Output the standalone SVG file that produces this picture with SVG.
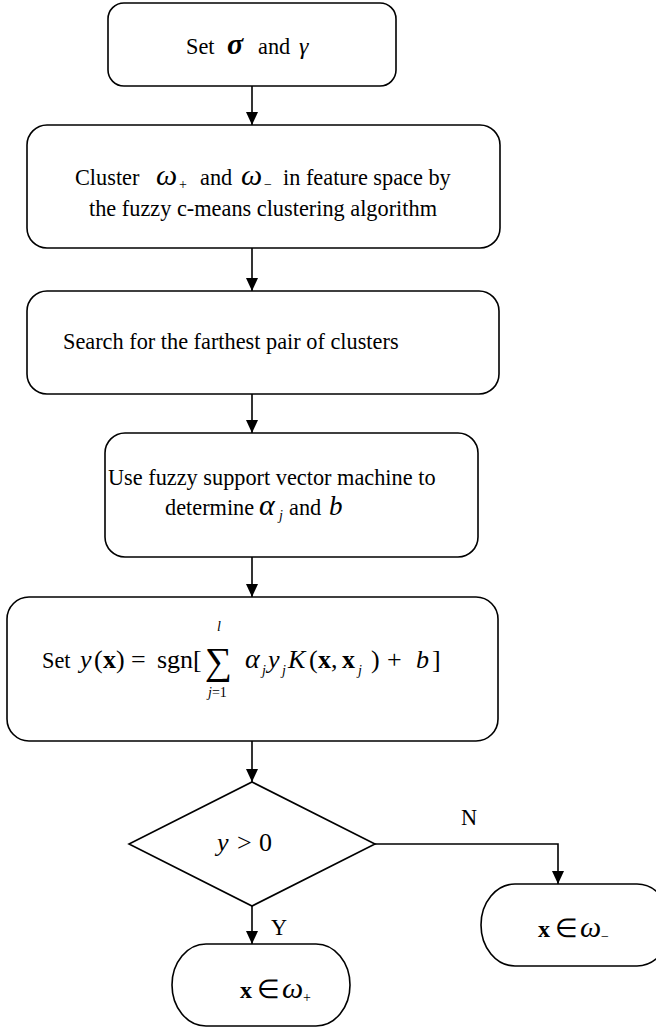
<svg xmlns="http://www.w3.org/2000/svg" width="656" height="1030" viewBox="0 0 656 1030">
  <style>
    .box { fill: #fff; stroke: #000; stroke-width: 1.6; }
    .wire { fill: none; stroke: #000; stroke-width: 1.6; }
    text { font-family: "Liberation Serif", "Times New Roman", serif; font-size: 22.3px; fill: #000; }
    .mi { font-style: italic; }
    .bf { font-weight: bold; }
    .big { font-size: 30px; font-style: italic; }
    .sub { font-size: 14px; }
  </style>
  <defs>
    <marker id="arrow" markerWidth="13" markerHeight="13" refX="13" refY="6.5" orient="auto" markerUnits="userSpaceOnUse">
      <path d="M0,0.5 L13,6.5 L0,12.5 Z" fill="#000"/>
    </marker>
  </defs>

  <rect width="656" height="1030" fill="#fff"/>

  <!-- connectors -->
  <g id="connectors">
    <line class="wire" x1="252" y1="86" x2="252" y2="125" marker-end="url(#arrow)"/>
    <line class="wire" x1="252" y1="248" x2="252" y2="291" marker-end="url(#arrow)"/>
    <line class="wire" x1="252" y1="394" x2="252" y2="433" marker-end="url(#arrow)"/>
    <line class="wire" x1="252" y1="557" x2="252" y2="597" marker-end="url(#arrow)"/>
    <line class="wire" x1="252" y1="741" x2="252" y2="782" marker-end="url(#arrow)"/>
    <polyline class="wire" points="375,844 558,844 558,884" marker-end="url(#arrow)"/>
    <line class="wire" x1="252" y1="906" x2="252" y2="944" marker-end="url(#arrow)"/>
    <text x="461" y="825">N</text>
    <text x="271" y="935">Y</text>
  </g>

  <!-- step 1 -->
  <g id="set-params">
    <rect class="box" x="108" y="3" width="288" height="83" rx="16"/>
    <text y="54"><tspan x="186">Set</tspan><tspan x="227" class="big" style="font-weight:bold">σ</tspan><tspan x="258">and</tspan><tspan x="299" class="mi" style="font-size:24px">γ</tspan></text>
  </g>

  <!-- step 2 -->
  <g id="cluster">
    <rect class="box" x="27" y="125" width="473" height="123" rx="20"/>
    <text y="185"><tspan x="75">Cluster</tspan><tspan x="156" class="big">ω</tspan><tspan x="179" y="189" class="sub">+</tspan><tspan x="200" y="185">and</tspan><tspan x="241" class="big">ω</tspan><tspan x="264" y="189" class="sub">−</tspan><tspan x="283" y="185">in feature space by</tspan></text>
    <text x="263" y="216" text-anchor="middle">the fuzzy c-means clustering algorithm</text>
  </g>

  <!-- step 3 -->
  <g id="search">
    <rect class="box" x="27" y="291" width="472" height="103" rx="20"/>
    <text x="63" y="349">Search for the farthest pair of clusters</text>
  </g>

  <!-- step 4 -->
  <g id="fsvm">
    <rect class="box" x="105" y="433" width="373" height="124" rx="20"/>
    <text x="108" y="485">Use fuzzy support vector machine to</text>
    <text y="515"><tspan x="165">determine</tspan><tspan x="259" class="big">α</tspan><tspan x="279" y="520" class="sub mi">j</tspan><tspan x="289" y="515">and</tspan><tspan x="329" class="mi" style="font-size:27px">b</tspan></text>
  </g>

  <!-- step 5 -->
  <g id="decision-fn">
    <rect class="box" x="7" y="597" width="491" height="144" rx="22"/>
    <text y="668" style="font-size:26px"><tspan x="42" style="font-size:22.3px">Set</tspan><tspan x="80" class="mi">y</tspan><tspan x="94">(</tspan><tspan x="103" class="bf">x</tspan><tspan x="116">)</tspan><tspan x="131">=</tspan><tspan x="157">sgn[</tspan><tspan x="205" y="674" style="font-size:38px">∑</tspan><tspan x="245" y="668" class="mi" style="font-size:28px">α</tspan><tspan x="262" y="675" class="sub mi">j</tspan><tspan x="268" y="668" class="mi">y</tspan><tspan x="282" y="675" class="sub mi">j</tspan><tspan x="288" y="668" class="mi">K</tspan><tspan x="309">(</tspan><tspan x="318" class="bf">x</tspan><tspan x="331">,</tspan><tspan x="342" class="bf">x</tspan><tspan x="358" y="675" class="sub mi">j</tspan><tspan x="371" y="668">)</tspan><tspan x="387">+</tspan><tspan x="416" class="mi">b</tspan><tspan x="432">]</tspan></text>
    <text x="217" y="631" class="sub mi">l</text>
    <text x="208" y="697" class="sub"><tspan class="mi">j</tspan>=1</text>
  </g>

  <!-- test -->
  <g id="test">
    <polygon class="box" points="252,782 375,844 252,906 129,844"/>
    <text y="851" style="font-size:26px"><tspan x="217" class="mi">y</tspan><tspan x="237">&gt;</tspan><tspan x="259">0</tspan></text>
  </g>

  <!-- outcome: negative class -->
  <g id="neg-class">
    <rect class="box" x="481" y="884" width="190" height="82" rx="34" ry="41"/>
    <text y="937" style="font-size:26px"><tspan x="538" class="bf" style="font-size:24px">x</tspan><tspan x="555">∈</tspan><tspan x="580" class="mi" style="font-size:30px">ω</tspan><tspan x="601" y="941" class="sub">−</tspan></text>
  </g>

  <!-- outcome: positive class -->
  <g id="pos-class">
    <rect class="box" x="172" y="944" width="178" height="82" rx="34" ry="41"/>
    <text y="998" style="font-size:26px"><tspan x="240" class="bf" style="font-size:24px">x</tspan><tspan x="257">∈</tspan><tspan x="282" class="mi" style="font-size:30px">ω</tspan><tspan x="303" y="1002" class="sub">+</tspan></text>
  </g>
</svg>
